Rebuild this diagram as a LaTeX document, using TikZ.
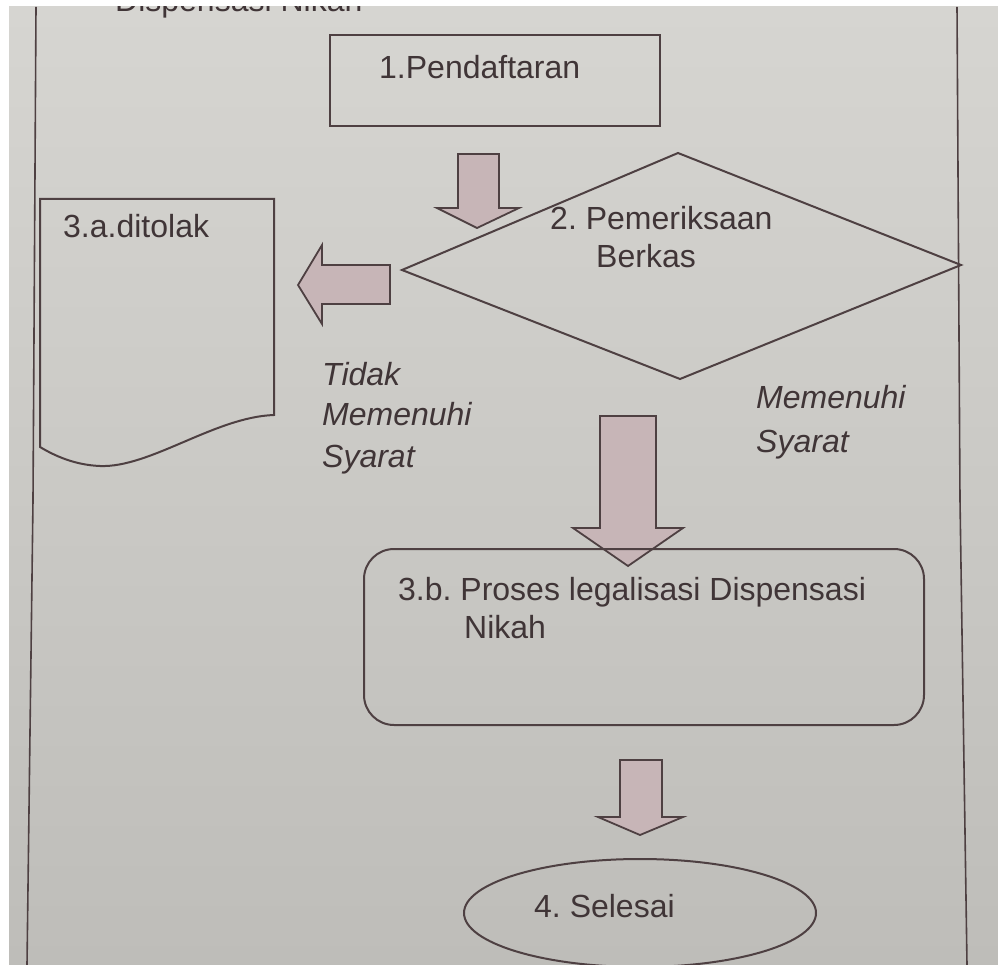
\documentclass[tikz,border=0pt]{standalone}
\usepackage{fontspec}
\setmainfont{Liberation Sans}
\usetikzlibrary{shapes.geometric}
\definecolor{paperT}{RGB}{214,213,209}
\definecolor{paperB}{RGB}{190,189,185}
\definecolor{ink}{RGB}{78,64,66}
\definecolor{txt}{RGB}{64,53,55}
\definecolor{arrowfill}{RGB}{199,181,183}
\tikzset{
  outline/.style={draw=ink, line width=2pt},
  blockarrow/.style={draw=ink, line width=1.8pt, fill=arrowfill, line join=miter},
  lbl/.style={anchor=base west, inner sep=0pt, text=txt, font=\fontsize{32}{38}\selectfont},
  ilbl/.style={lbl, font=\fontsize{32}{38}\selectfont\itshape},
  shapebox/.style={outline, inner sep=0pt}
}
\frenchspacing
\begin{document}
\begin{tikzpicture}[x=1pt,y=-1pt]
\useasboundingbox (0,0) rectangle (998,965);
\clip (0,0) rectangle (998,965);
\fill[white] (0,0) rectangle (998,965);
\shade[top color=paperT, bottom color=paperB] (9,7) rectangle (998,965);
% page frame lines
\draw[ink, line width=1.6pt] (36,7) -- (33,500) -- (27,965);
\draw[ink, line width=1.6pt] (957,7) -- (960,500) -- (967,965);
% clipped heading
\begin{scope}
\clip (9,7) rectangle (998,965);
\node[lbl] (head) at (115,12) {Dispensasi Nikah};
\end{scope}
% box 1
\node[shapebox, rectangle, minimum width=330, minimum height=91] (box1) at (495,80.5) {};
\node[lbl] (t1) at (379,79) {1.Pendaftaran};
% arrow 1
\draw[blockarrow] (458,154) -- (499,154) -- (499,208) -- (519,208) -- (477,228) -- (437,208) -- (458,208) -- cycle;
% diamond
\coordinate (dT) at (678,153);
\coordinate (dR) at (961,265);
\coordinate (dB) at (680,379);
\coordinate (dL) at (402,270);
\draw[outline, line join=miter] (dT) -- (dR) -- (dB) -- (dL) -- cycle;
\node[lbl] (t2a) at (550,230) {2. Pemeriksaan};
\node[lbl] (t2b) at (596,268) {Berkas};
% left arrow
\draw[blockarrow] (390,265) -- (390,304) -- (322,304) -- (322,324) -- (298,285) -- (322,245) -- (322,265) -- cycle;
% document shape
\draw[outline] (40,199) -- (274,199) -- (274,415)
  .. controls (215,417) and (150,468) .. (100,466)
  .. controls (75,465) and (55,456) .. (40,447) -- cycle;
\node[lbl] (t3a) at (63,238) {3.a.ditolak};
% labels
\node[ilbl] (n1) at (322,385) {Tidak};
\node[ilbl] (n2) at (322,425) {Memenuhi};
\node[ilbl] (n3) at (322,467) {Syarat};
\node[ilbl] (y1) at (756,408) {Memenuhi};
\node[ilbl] (y2) at (756,452) {Syarat};
% big arrow
\draw[blockarrow] (600,416) -- (656,416) -- (656,528) -- (683,528) -- (628,566) -- (573,528) -- (600,528) -- cycle;
% rounded box
\draw[outline, rounded corners=30pt] (364,549) rectangle (924,725);
\node[lbl] (t3b) at (398,600) {3.b. Proses legalisasi Dispensasi};
\node[lbl] (t3c) at (464,638) {Nikah};
% small arrow
\draw[blockarrow] (620,760) -- (662,760) -- (662,817) -- (683,817) -- (640,835) -- (598,817) -- (620,817) -- cycle;
% ellipse
\node[shapebox, ellipse, minimum width=352, minimum height=108] (end) at (640,913) {};
\node[lbl] (t4) at (534,917) {4. Selesai};
\end{tikzpicture}
\end{document}
